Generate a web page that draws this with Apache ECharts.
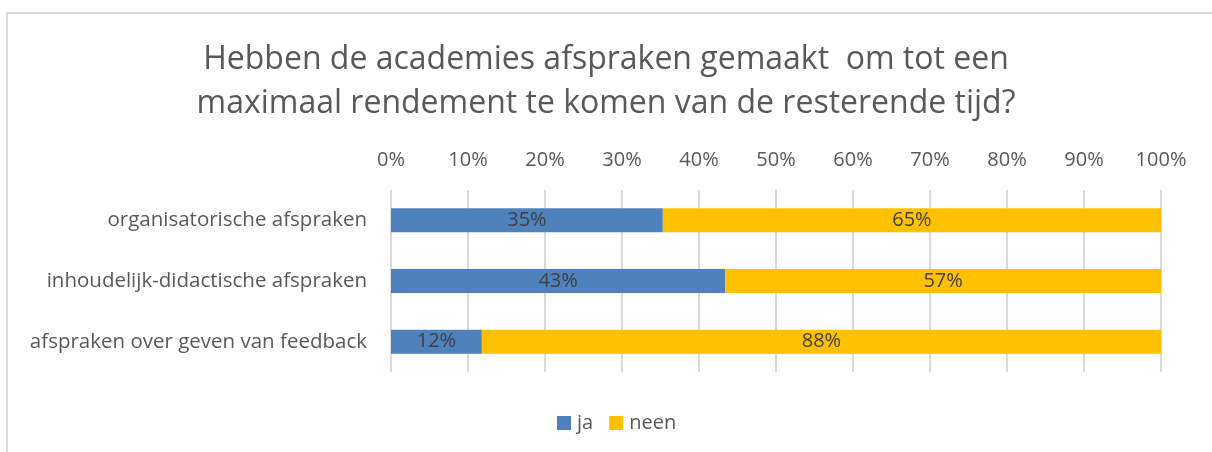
<!DOCTYPE html>
<html>
<head>
<meta charset="utf-8">
<script src="https://cdn.jsdelivr.net/npm/echarts@6/dist/echarts.min.js"></script>
<style>
  html, body { margin: 0; padding: 0; background: #fff; }
  #chart { width: 1212px; height: 452px; }
</style>
</head>
<body>
<div id="chart"></div>
<script>
// categories top to bottom
const categories = [
  'organisatorische afspraken',
  'inhoudelijk-didactische afspraken',
  'afspraken over geven van feedback'
]
const jaValues = [35.3, 43.4, 11.8]
const neenValues = [64.7, 56.6, 88.2]
const seriesNames = ['ja', 'neen']
const titleLines = [
  'Hebben de academies afspraken gemaakt  om tot een',
  'maximaal rendement te komen van de resterende tijd?'
]

const font = 'Open Sans'
const grey = '#595959'

const labelOpt = {
  show: true,
  position: 'inside',
  color: '#404040',
  fontSize: 20,
  fontFamily: font,
  formatter: p => Math.round(p.value) + '%'
}

const myChart = echarts.init(document.getElementById('chart'))
myChart.setOption({
  animation: false,
  title: {
    text: titleLines.join('\n'),
    left: 'center',
    top: 33,
    textStyle: {
      color: grey,
      fontFamily: font,
      fontWeight: 'normal',
      fontSize: 32,
      lineHeight: 44
    }
  },
  graphic: [{
    type: 'polyline',
    shape: { points: [[7, 460], [7, 13], [1220, 13]] },
    style: { stroke: '#d9d9d9', lineWidth: 2, fill: null }
  }],
  legend: {
    bottom: 14,
    left: 552,
    itemWidth: 14,
    itemHeight: 14,
    itemGap: 16,
    icon: 'rect',
    textStyle: { color: grey, fontSize: 20, fontFamily: font, padding: [0, 0, 0, 1] }
  },
  grid: {
    left: 391,
    right: 51,
    top: 190,
    height: 182
  },
  xAxis: {
    type: 'value',
    position: 'top',
    min: 0,
    max: 100,
    interval: 10,
    axisLine: { show: false },
    axisTick: { show: false },
    axisLabel: {
      color: grey,
      fontSize: 20,
      fontFamily: font,
      margin: 20,
      formatter: v => v + '%'
    },
    splitLine: { lineStyle: { color: '#d9d9d9', width: 2 } }
  },
  yAxis: {
    type: 'category',
    data: categories,
    inverse: true,
    axisLine: { show: false },
    axisTick: { show: false },
    axisLabel: { color: grey, fontSize: 20.5, fontFamily: font, margin: 24 }
  },
  series: [
    {
      name: seriesNames[0],
      type: 'bar',
      stack: 'total',
      data: jaValues,
      barWidth: 24,
      itemStyle: { color: '#4f81bd' },
      label: labelOpt
    },
    {
      name: seriesNames[1],
      type: 'bar',
      stack: 'total',
      data: neenValues,
      barWidth: 24,
      itemStyle: { color: '#ffc000' },
      label: labelOpt
    }
  ]
})
</script>
</body>
</html>
